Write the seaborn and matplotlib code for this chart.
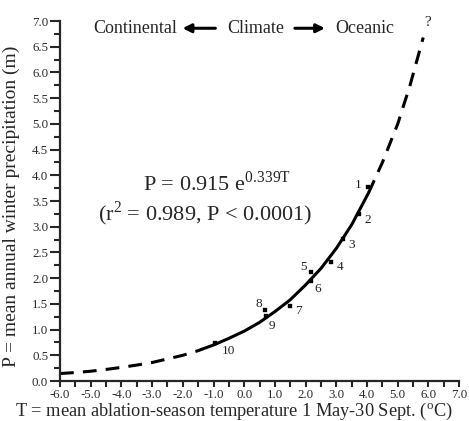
import pandas as pd
import seaborn as sns
import matplotlib.pyplot as plt
from matplotlib.ticker import MultipleLocator, FormatStrFormatter

# glacier data
site_id = ['1', '2', '3', '4', '5', '6', '7', '8', '9', '10']
temp_c = [4.04, 3.75, 3.22, 2.83, 2.18, 2.18, 1.50, 0.68, 0.72, -0.94]
precip_m = [3.78, 3.25, 2.77, 2.32, 2.12, 1.95, 1.46, 1.38, 1.27, 0.74]
label_offsets = [(-10, 2), (8, -6), (9, -6), (9, -5), (-8, 5), (7, -8),
                 (8, -5), (-6, 6), (6, -10), (13, -8)]

# fitted exponential curve
curve_t = [-6.0, -5.5, -5.0, -4.5, -4.0, -3.5, -3.0, -2.5, -2.0, -1.5, -1.37,
           -1.0, -0.5, 0.0, 0.5, 1.0, 1.5, 2.0, 2.5, 3.0, 3.5, 4.05,
           4.5, 5.0, 5.4, 5.83]
curve_p = [0.145, 0.165, 0.19, 0.225, 0.265, 0.31, 0.36, 0.43, 0.50, 0.59, 0.62,
           0.70, 0.83, 0.97, 1.14, 1.35, 1.58, 1.87, 2.19, 2.58, 3.04, 3.66,
           4.25, 5.0, 5.75, 6.68]
solid_from, solid_to = -1.37, 4.05

sns.set_style('ticks')
plt.rcParams['font.family'] = ['Liberation Serif', 'DejaVu Serif']
plt.rcParams['mathtext.fontset'] = 'custom'
plt.rcParams['mathtext.rm'] = 'Liberation Serif'

fig = plt.figure(figsize=(4.69, 4.21), dpi=100)
ax = fig.add_axes([0.128, 0.095, 0.851, 0.855])

curve = pd.DataFrame({'T': curve_t, 'P': curve_p})
low = curve[curve['T'] <= solid_from]
mid = curve[(curve['T'] >= solid_from) & (curve['T'] <= solid_to)]
high = curve[curve['T'] >= solid_to]

for d in (low, high):
    sns.lineplot(data=d, x='T', y='P', ax=ax, color='black', lw=2.2,
                 linestyle=(0, (4.5, 3)), sort=False)
sns.lineplot(data=mid, x='T', y='P', ax=ax, color='black', lw=2.2, sort=False)

pts = pd.DataFrame({'T': temp_c, 'P': precip_m, 'id': site_id})
sns.scatterplot(data=pts, x='T', y='P', ax=ax, color='black', marker='s',
                s=10, edgecolor='black', zorder=5)
for (_, r), off in zip(pts.iterrows(), label_offsets):
    ax.annotate(r['id'], (r['T'], r['P']), xytext=off, textcoords='offset pixels',
                ha='center', va='center', fontsize=9.5, color='#222222')

ax.text(5.96, 6.98, '?', ha='center', va='center', fontsize=11, clip_on=False)

# climate banner
ax.text(-3.55, 6.86, 'Continental', ha='center', va='center', fontsize=13)
ax.text(0.36, 6.86, 'Climate', ha='center', va='center', fontsize=13)
ax.text(3.91, 6.86, 'Oceanic', ha='center', va='center', fontsize=13)
arrow = dict(arrowstyle='-|>,head_length=0.5,head_width=0.25', color='black', lw=2.2)
ax.annotate('', xy=(-2.1, 6.86), xytext=(-0.85, 6.86), arrowprops=arrow)
ax.annotate('', xy=(2.72, 6.86), xytext=(1.56, 6.86), arrowprops=arrow)

ax.text(-0.9, 3.84, r'P = 0.915 e$^{\mathregular{0.339T}}$', ha='center',
        va='center', fontsize=16)
ax.text(-1.27, 3.26, r'(r$^{\mathregular{2}}$ = 0.989, P < 0.0001)', ha='center',
        va='center', fontsize=16)

ax.set_xlim(-6, 7)
ax.set_ylim(0, 7)
ax.xaxis.set_major_locator(MultipleLocator(1.0))
ax.xaxis.set_minor_locator(MultipleLocator(0.5))
ax.yaxis.set_major_locator(MultipleLocator(0.5))
ax.yaxis.set_minor_locator(MultipleLocator(0.25))
ax.xaxis.set_major_formatter(FormatStrFormatter('%.1f'))
ax.yaxis.set_major_formatter(FormatStrFormatter('%.1f'))
ax.tick_params(which='both', direction='out', width=1.5, labelsize=9.3,
               labelcolor='#2a2a2a')
ax.tick_params(axis='x', which='major', length=4.5, pad=1.5)
ax.tick_params(axis='x', which='minor', length=4)
ax.tick_params(axis='y', which='major', length=7.5, pad=1)
ax.tick_params(axis='y', which='minor', length=4.5)
for s in ('left', 'bottom'):
    ax.spines[s].set_linewidth(1.6)
sns.despine(ax=ax)

ax.set_xlabel('T = mean ablation-season temperature 1 May-30 Sept. ($^{\\mathregular{o}}$C)',
              fontsize=13.2, labelpad=0)
ax.xaxis.set_label_coords(0.436, -0.055)
ax.set_ylabel('P = mean annual winter precipitation (m)', fontsize=14)
ax.yaxis.set_label_coords(-0.1, 0.485)

fig.savefig('out.png', dpi=100)
